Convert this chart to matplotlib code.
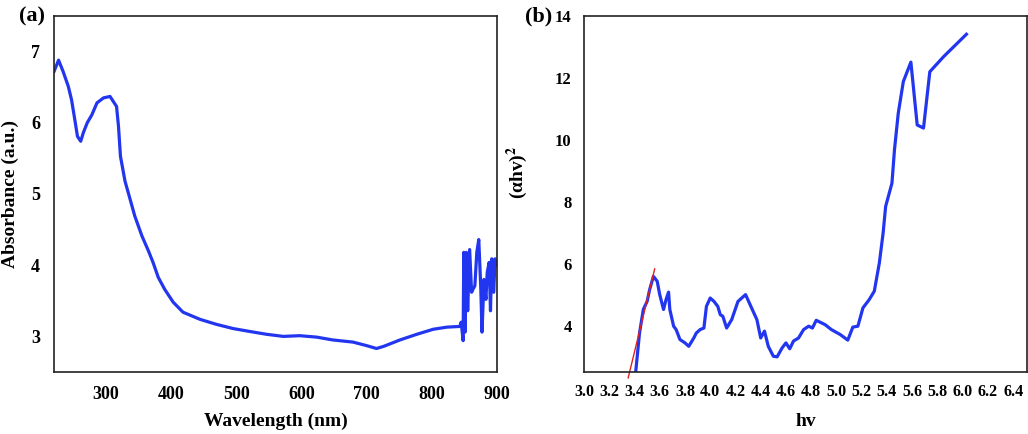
import matplotlib.pyplot as plt

plt.rcParams['font.family'] = ['Liberation Serif', 'DejaVu Serif']
plt.rcParams['font.weight'] = 'bold'
plt.rcParams['mathtext.fontset'] = 'stix'

# (a) absorbance spectrum
wl = [220, 227, 234, 242, 247, 252, 256, 261, 265, 271, 278, 286, 296, 306, 311, 316,
      319, 322, 329, 337, 344, 355, 365, 372, 380, 390, 403, 418, 444, 469, 495, 520,
      546, 572, 597, 623, 648, 679, 700, 715, 726, 751, 777, 802, 823, 843, 845, 848,
      849, 851, 853, 855, 858, 861, 863, 866, 869, 872, 875, 877, 880, 883, 885, 888,
      890, 892, 895, 897, 899]
absb = [6.72, 6.88, 6.72, 6.51, 6.32, 6.04, 5.81, 5.74, 5.86, 6.00, 6.11, 6.28, 6.35, 6.37, 6.30, 6.23,
        5.95, 5.53, 5.18, 4.92, 4.69, 4.41, 4.20, 4.04, 3.83, 3.66, 3.48, 3.34, 3.24, 3.17, 3.11, 3.07,
        3.03, 3.00, 3.01, 2.99, 2.95, 2.92, 2.87, 2.83, 2.86, 2.95, 3.03, 3.10, 3.13, 3.14, 3.20, 2.94,
        4.18, 3.06, 4.18, 3.36, 4.22, 3.62, 3.66, 3.71, 4.18, 4.36, 3.71, 3.06, 3.80, 3.52, 3.90, 4.04,
        3.36, 4.09, 3.62, 4.09, 4.00]

# (b) Tauc plot
hv = [3.41, 3.44, 3.47, 3.50, 3.52, 3.55, 3.58, 3.60, 3.63, 3.65, 3.67, 3.68, 3.71, 3.73, 3.76, 3.80,
      3.83, 3.87, 3.89, 3.92, 3.95, 3.97, 4.00, 4.03, 4.06, 4.08, 4.10, 4.13, 4.17, 4.22, 4.28, 4.31,
      4.37, 4.40, 4.43, 4.46, 4.50, 4.53, 4.57, 4.60, 4.63, 4.66, 4.70, 4.74, 4.78, 4.81, 4.84, 4.91,
      4.96, 5.03, 5.09, 5.13, 5.17, 5.21, 5.26, 5.30, 5.34, 5.37, 5.39, 5.44, 5.46, 5.49, 5.53, 5.59,
      5.64, 5.69, 5.74, 5.85, 6.03]
ahv2 = [2.52, 3.76, 4.52, 4.78, 5.16, 5.59, 5.43, 5.00, 4.52, 4.84, 5.08, 4.52, 3.98, 3.87, 3.55, 3.44,
        3.33, 3.60, 3.76, 3.87, 3.92, 4.62, 4.89, 4.78, 4.62, 4.35, 4.30, 3.92, 4.19, 4.78, 5.00, 4.73,
        4.19, 3.60, 3.82, 3.33, 3.01, 2.99, 3.28, 3.44, 3.25, 3.50, 3.60, 3.87, 3.98, 3.92, 4.17, 4.03,
        3.87, 3.71, 3.53, 3.95, 3.98, 4.57, 4.84, 5.11, 6.02, 6.99, 7.85, 8.60, 9.68, 10.86, 11.88, 12.51,
        10.48, 10.38, 12.20, 12.69, 13.41]
fit_x = [3.35, 3.56]
fit_y = [2.31, 5.83]

blue = '#2236f0'
fig = plt.figure(figsize=(10.28, 4.34), dpi=100)
ax1 = fig.add_axes([54/1028, 1-372/434, 443/1028, 356/434])
ax2 = fig.add_axes([584/1028, 1-372/434, 443/1028, 356/434])

ax1.plot(wl, absb, color=blue, linewidth=2.3)
ax1.set_xlim(220, 900)
ax1.set_ylim(2.5, 7.5)
ax1.set_xticks([300, 400, 500, 600, 700, 800, 900])
ax1.set_yticks([3, 4, 5, 6, 7])
ax1.set_xlabel('Wavelength (nm)', fontsize=14, fontweight='bold', labelpad=7)
ax1.set_ylabel('Absorbance (a.u.)', fontsize=14, fontweight='bold', labelpad=9)
ax1.tick_params(axis='x', length=0, labelsize=13, pad=10)
ax1.tick_params(axis='y', length=0, labelsize=13, pad=10)
ax1.text(-0.02, 1.0, '(a)', transform=ax1.transAxes, fontsize=16, ha='right', va='center')

ax2.plot(hv, ahv2, color=blue, linewidth=2.3)
ax2.plot(fit_x, fit_y, color='#e02020', linewidth=1.0, clip_on=False)
ax2.set_xlim(3.0, 6.51)
ax2.set_ylim(2.5, 14)
ax2.set_xticks([3.0 + 0.2 * i for i in range(18)])
ax2.set_xticklabels(['%.1f' % (3.0 + 0.2 * i) for i in range(18)])
ax2.set_yticks([4, 6, 8, 10, 12, 14])
ax2.set_xlabel('hv', fontsize=14, fontweight='bold', labelpad=9)
ax2.set_ylabel('(αhv)$^{2}$', fontsize=14, fontweight='bold', labelpad=10)
ax2.yaxis.set_label_coords(-0.122, 0.56)
ax2.tick_params(axis='x', length=0, labelsize=11.5, pad=9)
ax2.tick_params(axis='y', length=0, labelsize=12, pad=9)
ax2.text(-0.072, 1.0, '(b)', transform=ax2.transAxes, fontsize=16, ha='right', va='center')

for ax in (ax1, ax2):
    for s in ax.spines.values():
        s.set_linewidth(1.2)
        s.set_color('#222222')
    for lab in ax.get_xticklabels() + ax.get_yticklabels():
        lab.set_fontweight('bold')

fig.savefig('out.png', dpi=100)
